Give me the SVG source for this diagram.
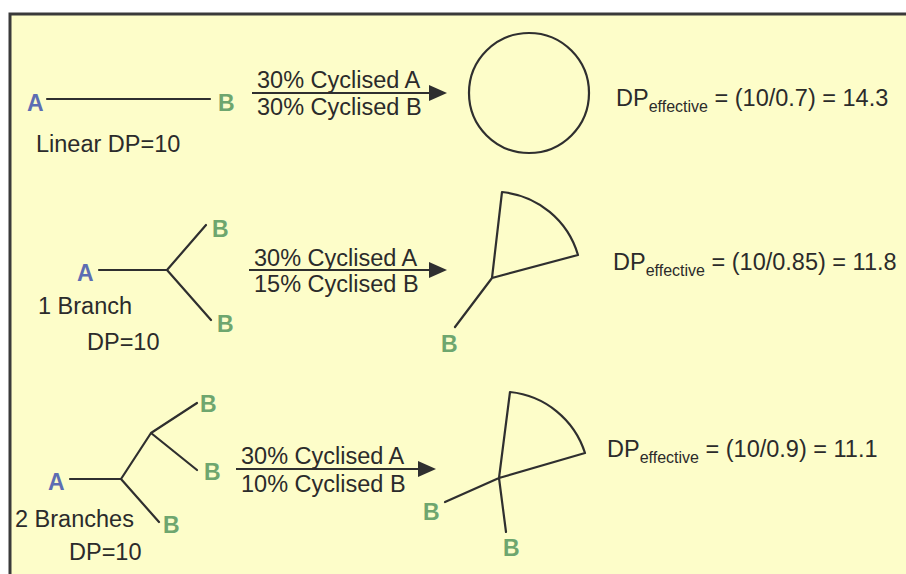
<svg xmlns="http://www.w3.org/2000/svg" width="906" height="574" viewBox="0 0 906 574">
<style>
.t{font-family:"Liberation Sans",Arial,sans-serif;font-size:23.5px;fill:#2b2b2b}
.a{font-family:"Liberation Sans",Arial,sans-serif;font-size:23px;font-weight:bold;fill:#5d6db3}
.b{font-family:"Liberation Sans",Arial,sans-serif;font-size:23px;font-weight:bold;fill:#6ea66e}
.sub{font-size:16px}
.ln{stroke:#2f2f2f;stroke-width:2.2;fill:none;stroke-linecap:round;stroke-linejoin:round}
.ar{stroke:#2f2f2f;stroke-width:2.2;fill:none}
</style>
<defs>
<marker id="head" markerUnits="userSpaceOnUse" markerWidth="20" markerHeight="18" refX="14" refY="8" orient="auto">
<path d="M0,0 L18,8 L0,16 Z" fill="#2f2f2f"/>
</marker>
</defs>
<rect x="0" y="0" width="906" height="574" fill="#ffffff"/>
<rect x="10" y="14" width="896" height="560" fill="#fdfdc9"/>
<path d="M10,574 L10,14 L906,14" fill="none" stroke="#3a3a3a" stroke-width="3"/>

<g id="linear">
<line class="ln" x1="47" y1="99" x2="210" y2="99"/>
<text class="a" x="27" y="111">A</text>
<text class="b" x="218" y="111">B</text>
<text class="t" x="36" y="152">Linear DP=10</text>
</g>
<g id="ring1">
<circle class="ln" cx="529" cy="93" r="60"/>
</g>
<g id="formula1">
<text class="t" x="616" y="106">DP<tspan class="sub" dy="6">effective</tspan><tspan dy="-6"> = (10/0.7) = 14.3</tspan></text>
</g>

<g id="branch1">
<path class="ln" d="M99,270 L167,270 M206,225 L167,270 L211,320"/>
<text class="a" x="77" y="281">A</text>
<text class="b" x="212" y="237">B</text>
<text class="b" x="217" y="332">B</text>
<text class="t" x="38" y="314">1 Branch</text>
<text class="t" x="87" y="350">DP=10</text>
</g>
<g id="ring2">
<path class="ln" d="M455,327 L492,278 L502,192 A88,88 0 0 1 578,255 L492,278"/>
<text class="b" x="441" y="352">B</text>
</g>
<g id="formula2">
<text class="t" x="613" y="270">DP<tspan class="sub" dy="6">effective</tspan><tspan dy="-6"> = (10/0.85) = 11.8</tspan></text>
</g>

<g id="branch2">
<path class="ln" d="M70,479 L121,479 M159,522 L121,479 L151,433 L197,403 M151,433 L197,470"/>
<text class="a" x="48" y="490">A</text>
<text class="b" x="200" y="412">B</text>
<text class="b" x="204" y="480">B</text>
<text class="b" x="163" y="533">B</text>
<text class="t" x="15" y="527">2 Branches</text>
<text class="t" x="69" y="560">DP=10</text>
</g>
<g id="ring3">
<path class="ln" d="M506,532 L499,478 L510,392 A88,88 0 0 1 585,453 L499,478 L445,502"/>
<text class="b" x="423" y="520">B</text>
<text class="b" x="503" y="556">B</text>
</g>
<g id="formula3">
<text class="t" x="607" y="457">DP<tspan class="sub" dy="6">effective</tspan><tspan dy="-6"> = (10/0.9) = 11.1</tspan></text>
</g>

<g id="connectors">
<line class="ar" x1="252" y1="93" x2="443" y2="93" marker-end="url(#head)"/>
<text class="t" x="257" y="88">30% Cyclised A</text>
<text class="t" x="257" y="115">30% Cyclised B</text>
<line class="ar" x1="249" y1="270" x2="443" y2="270" marker-end="url(#head)"/>
<text class="t" x="254" y="266">30% Cyclised A</text>
<text class="t" x="254" y="292">15% Cyclised B</text>
<line class="ar" x1="236" y1="469" x2="432" y2="469" marker-end="url(#head)"/>
<text class="t" x="241" y="464">30% Cyclised A</text>
<text class="t" x="241" y="492">10% Cyclised B</text>
</g>
</svg>
